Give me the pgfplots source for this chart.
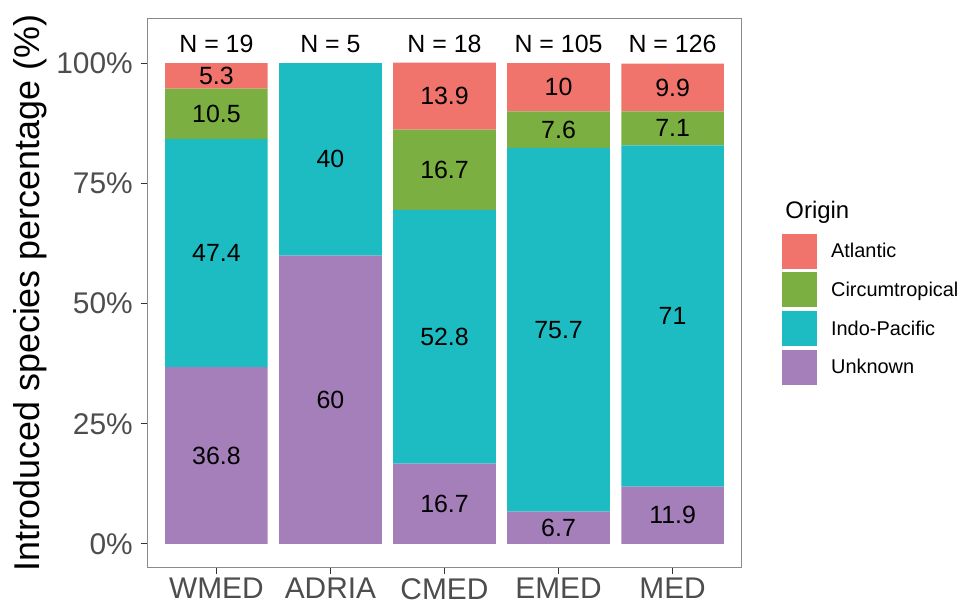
\documentclass[border=0pt]{standalone}
\usepackage{fontspec}
\setmainfont{Liberation Sans}
\usepackage{pgfplots}
\pgfplotsset{compat=1.18}
\definecolor{atl}{HTML}{F1746C}
\definecolor{cir}{HTML}{7BAF42}
\definecolor{ind}{HTML}{1DBCC3}
\definecolor{unk}{HTML}{A57FBA}
\definecolor{bord}{HTML}{333333}
\definecolor{panel}{HTML}{8A8A8A}
\definecolor{tlab}{HTML}{4D4D4D}

\pgfplotsset{
  base/.style={scale only axis, width=593bp, height=548bp,
    xmin=0.4, xmax=5.6, ymin=-4.8, ymax=109.2, enlargelimits=false},
  keysq/.style={legend image code/.code={
      \fill[##1] (0bp,-17.5bp) rectangle (35bp,17.5bp);
      \path (0bp,-19.35bp) -- (0bp,19.35bp);}},
}

% segment centres and values
\pgfplotstableread{
x y label
1 18.4 36.8
1 60.5 47.4
1 89.45 10.5
1 97.35 5.3
2 30 60
2 80 40
3 8.35 16.7
3 43.1 52.8
3 77.85 16.7
3 93.15 13.9
4 3.35 6.7
4 44.55 75.7
4 86.2 7.6
4 95 10
5 5.95 11.9
5 47.4 71
5 86.45 7.1
5 94.95 9.9
}\seglabels

\pgfplotstableread[col sep=comma]{
x,y,label
1,104,N = 19
2,104,N = 5
3,104,N = 18
4,104,N = 105
5,104,N = 126
}\ncount

\begin{document}
\begin{tikzpicture}
\begin{axis}[base,
  ybar stacked, bar width=0.9,
  clip=false,
  xtick={1,2,3,4,5},
  xticklabels={WMED,ADRIA,CMED,EMED,MED},
  ytick={0,25,50,75,100},
  yticklabels={0\%,25\%,50\%,75\%,100\%},
  tick align=outside, major tick length=7bp,
  xtick pos=left, ytick pos=left,
  tick style={bord, line width=1.1bp},
  axis line style={panel, line width=1bp},
  ticklabel style={font=\fontsize{30}{36}\selectfont, text=tlab, inner sep=0pt},
  xticklabel style={anchor=north, yshift=-4bp},
  yticklabel style={anchor=east, xshift=-8bp},
  ylabel={Introduced species percentage (\%)},
  every axis y label/.style={at={(rel axis cs:-0.199,0.5)}, rotate=90,
    anchor=center, font=\fontsize{36}{40}\selectfont},
  reverse legend,
  legend style={at={(1.069,0.612)}, anchor=north west, draw=none, fill=none,
    inner sep=0pt, row sep=0pt, column sep=14bp,
    font=\fontsize{20}{24}\selectfont, nodes={inner sep=0pt},
    cells={anchor=west}},
]
\addplot[fill=unk, draw=none, keysq] coordinates {(1,36.8) (2,60) (3,16.7) (4,6.7) (5,11.9)};
\addlegendentry{Unknown}
\addplot[fill=ind, draw=none, keysq] coordinates {(1,47.4) (2,40) (3,52.8) (4,75.7) (5,71)};
\addlegendentry{Indo-Pacific}
\addplot[fill=cir, draw=none, keysq] coordinates {(1,10.5) (2,0) (3,16.7) (4,7.6) (5,7.1)};
\addlegendentry{Circumtropical}
\addplot[fill=atl, draw=none, keysq] coordinates {(1,5.3) (2,0) (3,13.9) (4,10) (5,9.9)};
\addlegendentry{Atlantic}
\node[anchor=base west, font=\fontsize{24}{28}\selectfont] at (rel axis cs:1.069,0.6357) {Origin};
\end{axis}
\begin{axis}[base, hide axis, clip=false]
\addplot[only marks, mark=none, nodes near coords, point meta=explicit symbolic,
  every node near coord/.append style={anchor=center, font=\fontsize{25}{30}\selectfont, text=black}]
  table[x=x, y=y, meta=label] {\seglabels};
\addplot[only marks, mark=none, nodes near coords, point meta=explicit symbolic,
  every node near coord/.append style={anchor=center, font=\fontsize{25}{30}\selectfont, text=black}]
  table[x=x, y=y, meta=label] {\ncount};
\end{axis}
\pgfresetboundingbox
\useasboundingbox (-148bp,-38bp) rectangle (812bp,567bp);
\end{tikzpicture}
\end{document}
